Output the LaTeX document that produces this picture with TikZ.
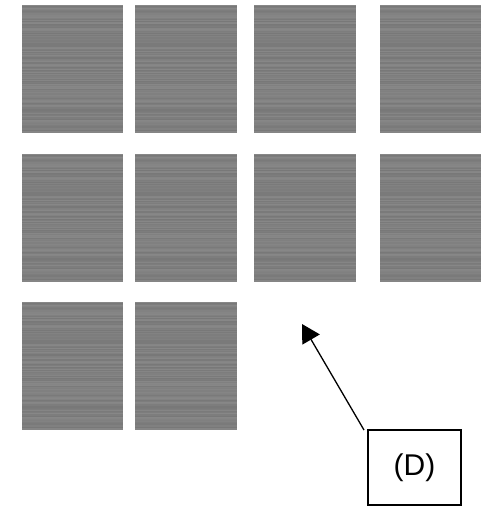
\documentclass[tikz,border=0pt]{standalone}
\usepackage{fontspec}
\setmainfont{Liberation Sans}
\usetikzlibrary{arrows.meta}
\tikzset{
  labelbox/.style={draw=black, line width=1.3pt, inner sep=0pt, minimum width=93pt, minimum height=75pt, font=\fontsize{30}{32}\selectfont},
  pointer/.style={line width=1.3pt, -{Triangle[length=18pt,width=20pt]}}
}
\definecolor{panelgray}{HTML}{808080}
% stripes: #1=left x, #2=top y, #3=width, #4=height, #5=name
\newcommand{\stripedpanel}[5]{%
  \pgfmathsetseed{7}%
  \node[inner sep=0pt, minimum width=#3pt, minimum height=#4pt, anchor=north west, fill=panelgray] (#5) at (#1,#2) {};
  \foreach \k in {0,...,\numexpr#4-1\relax}{%
    \pgfmathrandominteger{\g}{47}{53}%
    \fill[black!\g!white] (#1,#2+\k) rectangle (#1+#3,#2+\k+1);
  }%
}
\begin{document}
\begin{tikzpicture}[x=1pt,y=-1pt]
\useasboundingbox (0,0) rectangle (481,506);
\stripedpanel{22}{5}{101}{128}{p11}
\stripedpanel{135}{5}{102}{128}{p12}
\stripedpanel{254}{5}{102}{128}{p13}
\stripedpanel{380}{5}{101}{128}{p14}
\stripedpanel{22}{154}{101}{128}{p21}
\stripedpanel{135}{154}{102}{128}{p22}
\stripedpanel{254}{154}{102}{128}{p23}
\stripedpanel{380}{154}{101}{128}{p24}
\stripedpanel{22}{302}{101}{128}{p31}
\stripedpanel{135}{302}{102}{128}{p32}
\node[labelbox] (D) at (414.5,467.5) {(D)};
\coordinate (tail) at (364,430);
\coordinate (tip) at (302,324);
\draw[pointer] (tail) -- (tip);
\end{tikzpicture}
\end{document}
